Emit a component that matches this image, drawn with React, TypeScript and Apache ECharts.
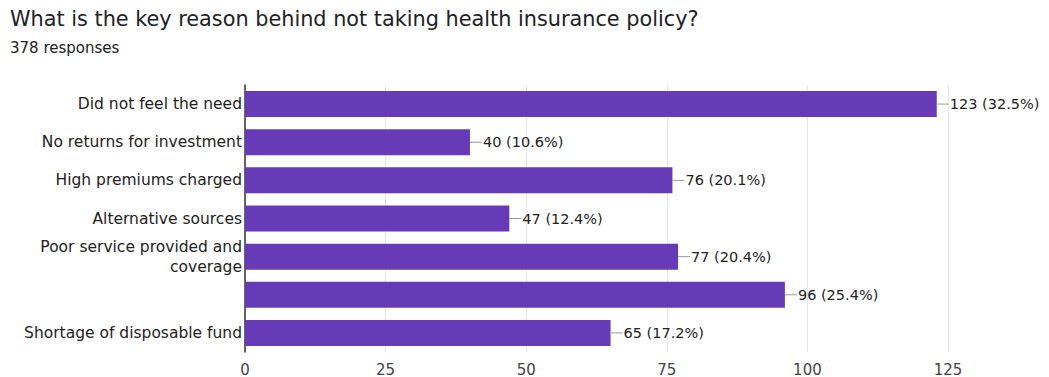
import React, { useEffect, useRef } from "react";
import * as echarts from "echarts";

const TITLE = "What is the key reason behind not taking health insurance policy?";
const SUBTITLE = "378 responses";
const TOTAL = 378;
const categories = [
  "Did not feel the need",
  "No returns for investment",
  "High premiums charged",
  "Alternative sources",
  "Poor service provided and\ncoverage",
  "",
  "Shortage of disposable fund",
];
const values = [123, 40, 76, 47, 77, 96, 65];
const xTicks = [0, 25, 50, 75, 100, 125];

const FONT = "DejaVu Sans";

export default function App() {
  const ref = useRef<HTMLDivElement>(null);
  useEffect(() => {
    if (!ref.current) return;
    const chart = echarts.init(ref.current, undefined, { renderer: "svg" });
    chart.setOption({
      animation: false,
      backgroundColor: "#ffffff",
      title: {
        text: TITLE,
        subtext: SUBTITLE,
        left: 10,
        top: 8,
        padding: 0,
        itemGap: 11,
        textStyle: { fontFamily: FONT, fontSize: 20.8, fontWeight: "normal", color: "#202124" },
        subtextStyle: { fontFamily: FONT, fontSize: 15, color: "#202124" },
      },
      grid: { left: 245, right: 101, top: 85, bottom: 25, containLabel: false },
      xAxis: {
        type: "value",
        min: xTicks[0],
        max: xTicks[xTicks.length - 1],
        interval: 25,
        axisLine: { show: false },
        axisTick: { show: false },
        axisLabel: { color: "#444", fontFamily: FONT, fontSize: 15, margin: 10 },
        splitLine: { show: true, lineStyle: { color: "#e6e6e6", width: 1 } },
      },
      yAxis: {
        type: "category",
        data: categories,
        inverse: true,
        axisLine: { show: true, lineStyle: { color: "#333", width: 1.5 } },
        axisTick: { show: false },
        axisLabel: {
          color: "#222",
          fontFamily: FONT,
          fontSize: 15.5,
          margin: 3,
          lineHeight: 20,
          align: "right",
        },
      },
      series: [
        {
          type: "bar",
          data: values,
          barWidth: 26,
          itemStyle: { color: "#673ab7" },
          label: {
            show: true,
            position: "right",
            distance: 0,
            formatter: (p: any) =>
              `{ln|}{v|${p.value} (${((p.value / TOTAL) * 100).toFixed(1)}%)}`,
            rich: {
              ln: { width: 12, height: 1, backgroundColor: "#999" },
              v: { fontFamily: FONT, fontSize: 14.5, color: "#222", padding: [0, 0, 0, 1] },
            },
          },
        },
      ],
    });
    return () => chart.dispose();
  }, []);
  return (
    <div
      ref={ref}
      style={{ position: "absolute", left: 0, top: 0, width: 1049, height: 377 }}
    />
  );
}
